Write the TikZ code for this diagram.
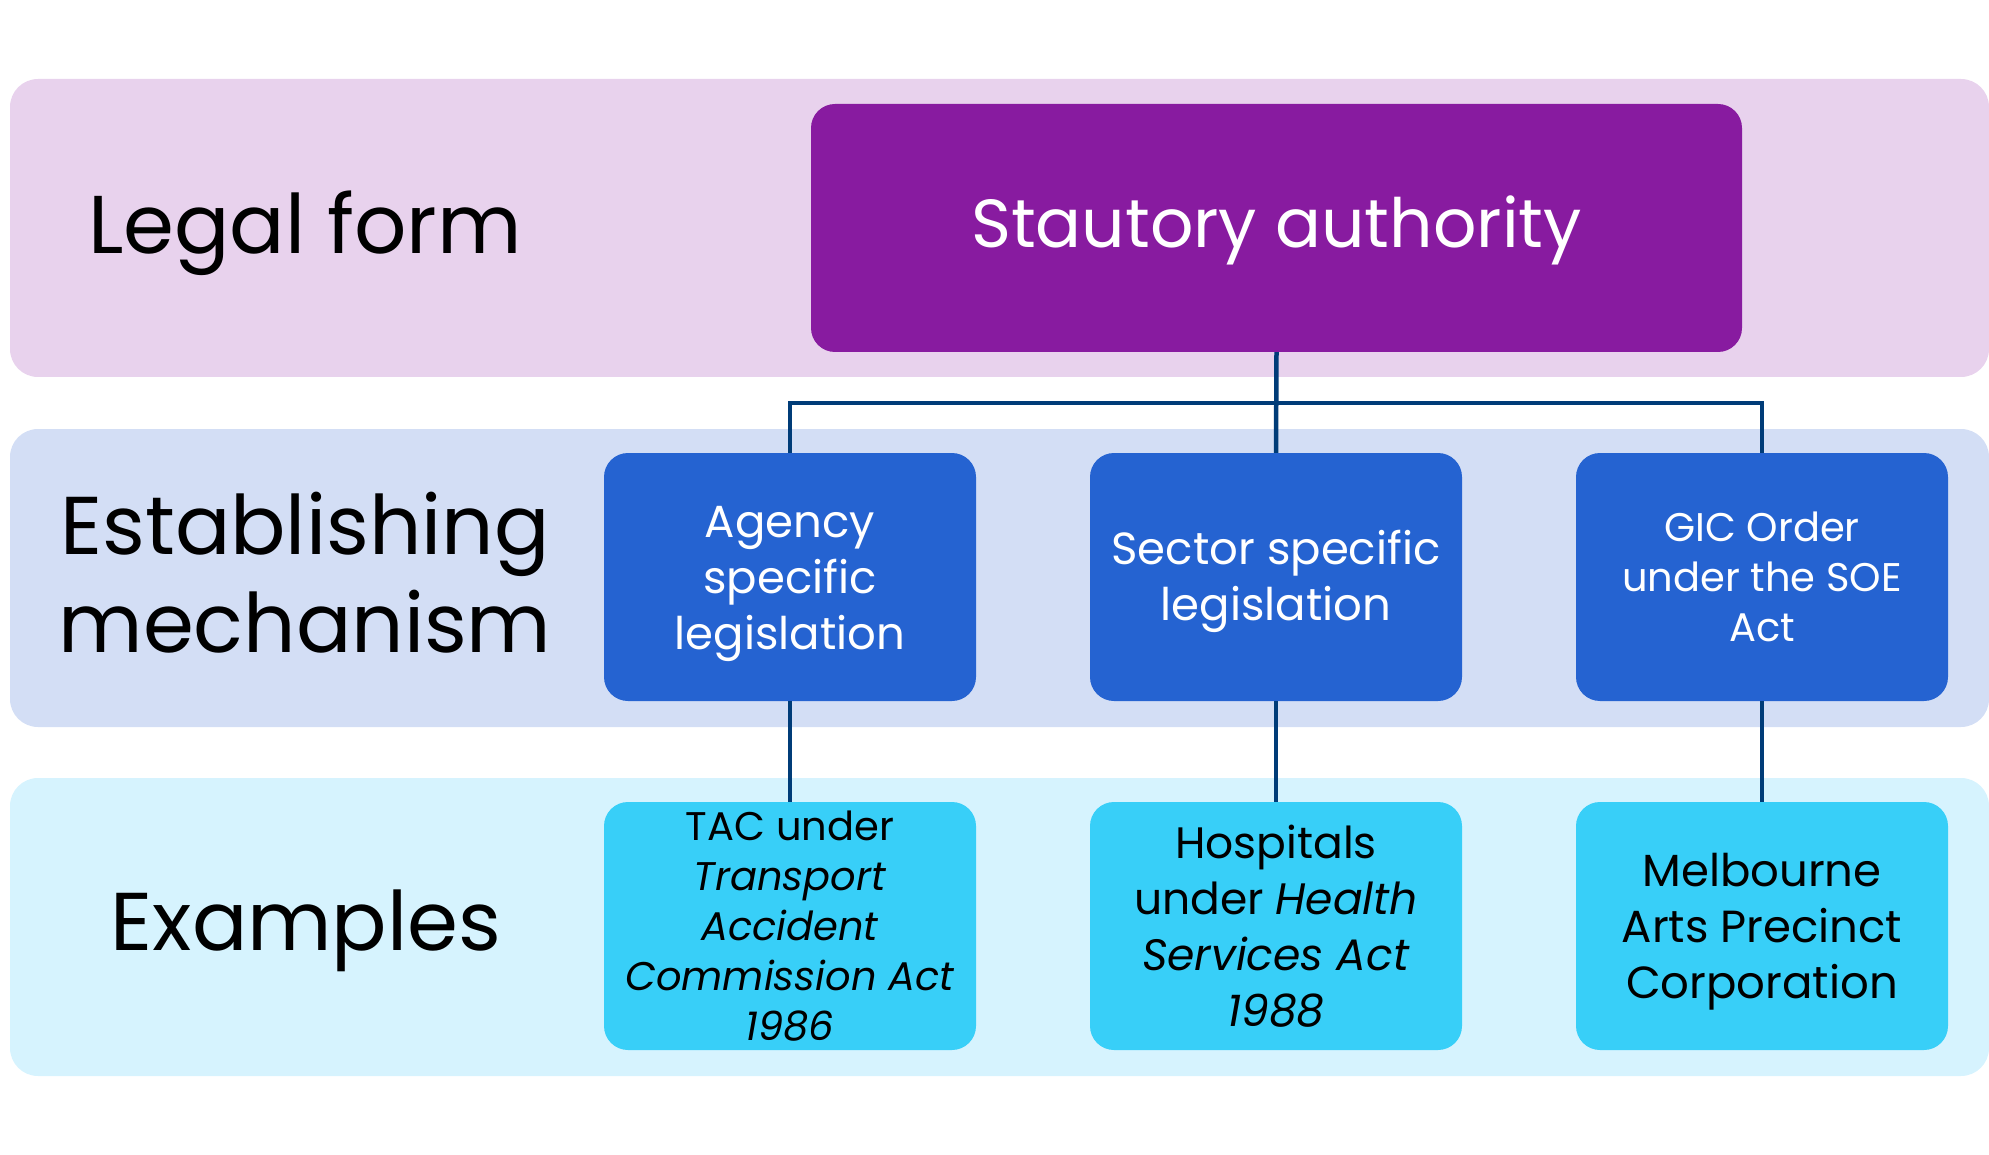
\documentclass[tikz,border=0pt]{standalone}
\usepackage{fontspec}
\setmainfont{Poppins}
\definecolor{bandA}{RGB}{232,210,237}
\definecolor{bandB}{RGB}{211,222,245}
\definecolor{bandC}{RGB}{214,243,254}
\definecolor{purplebox}{RGB}{136,27,160}
\definecolor{bluebox}{RGB}{37,99,209}
\definecolor{cyanbox}{RGB}{56,207,248}
\definecolor{linkcol}{RGB}{0,60,120}
\newcommand\boxlines[2]{\raisebox{#1}[\height][\depth]{\begin{tabular}{@{}c@{}}#2\end{tabular}}}
\tikzset{
  band/.style={rounded corners=28pt},
  rowlabel/.style={align=center, text=black, font=\fontsize{82}{98}\selectfont},
  boxbase/.style={rounded corners=24pt, minimum width=372pt, minimum height=248pt, inner sep=0pt, align=center},
  bluestyle/.style={boxbase, fill=bluebox, text=white, font=\fontsize{45}{56}\selectfont},
  cyanstyle/.style={boxbase, fill=cyanbox, text=black, font=\fontsize{44}{56}\selectfont},
  link/.style={draw=linkcol, line width=4.5pt}
}
\begin{document}
\begin{tikzpicture}[x=1pt,y=-1pt]
\useasboundingbox (0,0) rectangle (1989,1155);
% bands
\fill[band, bandA] (10,79) rectangle (1989,377);
\fill[band, bandB] (10,429) rectangle (1989,727);
\fill[band, bandC] (10,778) rectangle (1989,1076);
% row labels
\node[rowlabel] (lf) at (305,233) {Legal form};
\node[rowlabel] (em) at (305,573) {Establishing\\mechanism};
\node[rowlabel] (ex) at (306,931) {Examples};
% top box
\node[boxbase, minimum width=931pt, fill=purplebox, text=white, font=\fontsize{68}{80}\selectfont] (sa) at (1276.5,228) {\boxlines{-4pt}{Stautory authority}};
% establishing boxes
\node[bluestyle] (b1) at (790,577) {\boxlines{-5pt}{Agency\\specific\\legislation}};
\node[bluestyle] (b2) at (1276,577) {\boxlines{-4pt}{Sector specific\\legislation}};
\node[bluestyle, font=\fontsize{40}{50}\selectfont] (b3) at (1762,577) {GIC Order\\under the SOE\\Act};
% example boxes
\node[cyanstyle, font=\fontsize{40}{50}\selectfont] (c1) at (790,926) {TAC under\\\textit{Transport}\\\textit{Accident}\\\textit{Commission Act}\\\textit{1986}};
\node[cyanstyle] (c2) at (1276,926) {Hospitals\\under \textit{Health}\\\textit{Services Act}\\\textit{1988}};
\node[cyanstyle, font=\fontsize{45}{56}\selectfont] (c3) at (1762,926) {\boxlines{-5pt}{Melbourne\\Arts Precinct\\Corporation}};
% connectors
\coordinate (j) at (1276,403);
\draw[link] (sa.south) -- (b2.north);
\draw[link] (b1.north) |- (j) -| (b3.north);
\draw[link] (b1.south) -- (c1.north);
\draw[link] (b2.south) -- (c2.north);
\draw[link] (b3.south) -- (c3.north);
\end{tikzpicture}
\end{document}
